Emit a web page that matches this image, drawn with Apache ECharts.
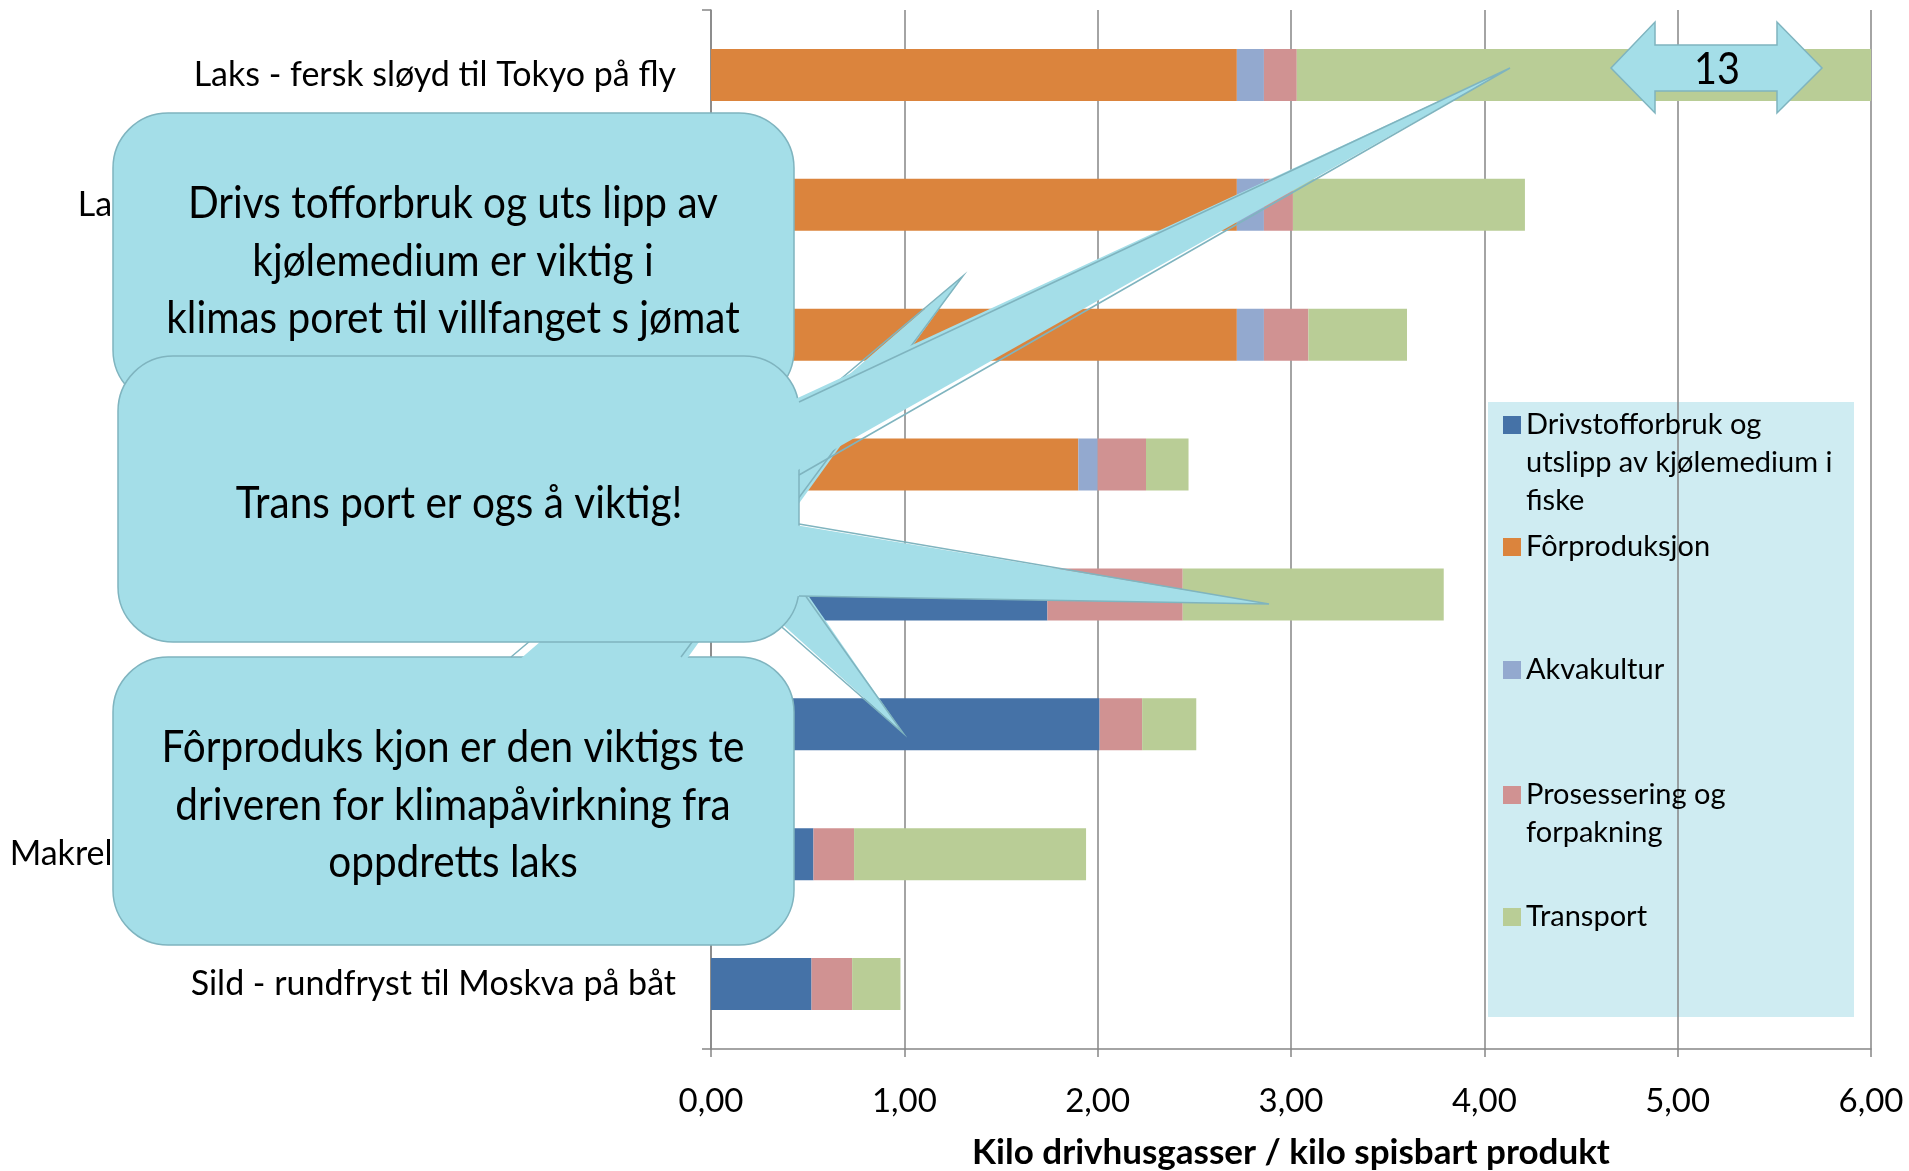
<!DOCTYPE html>
<html><head><meta charset="utf-8">
<script src="https://cdn.jsdelivr.net/npm/echarts@6/dist/echarts.min.js"></script>
<style>html,body{margin:0;padding:0;background:#fff}#c{width:1909px;height:1171px}</style>
</head><body><div id="c"></div><script>
const categories = [
  'Laks - fersk sløyd til Tokyo på fly',
  'Laks - fersk sløyd til Brussel med lastebil',
  'Laks - fersk filet til Paris med lastebil',
  'Laks - fryst filet til Tokyo på båt',
  'Torsk - fersk filet til Paris på fly',
  'Torsk - fryst filet til Paris med lastebil',
  'Makrel - rundfryst til Tokyo på båt og lastebil',
  'Sild - rundfryst til Moskva på båt'
];
const seriesNames = [
  'Drivstofforbruk og utslipp av kjølemedium i fiske',
  'Fôrproduksjon',
  'Akvakultur',
  'Prosessering og forpakning',
  'Transport'
];
const drivstoff    = [0, 0, 0, 0, 1.74, 2.01, 0.53, 0.52];
const forproduksjon = [2.72, 2.72, 2.72, 1.90, 0, 0, 0, 0];
const akvakultur   = [0.14, 0.14, 0.14, 0.10, 0, 0, 0, 0];
const prosessering = [0.17, 0.15, 0.23, 0.25, 0.70, 0.22, 0.21, 0.21];
const transport    = [9.97, 1.20, 0.51, 0.22, 1.35, 0.28, 1.20, 0.25];
const xTicks = [0, 1, 2, 3, 4, 5, 6];

const values = [drivstoff, forproduksjon, akvakultur, prosessering, transport];
const colors = ['#4572a7', '#db843d', '#93a9cf', '#d09292', '#b9cd96'];
const legendText = {
  'Drivstofforbruk og utslipp av kjølemedium i fiske': 'Drivstofforbruk og\nutslipp av kjølemedium i\nfiske',
  'Prosessering og forpakning': 'Prosessering og\nforpakning'
};
const legendCenters = [425, 547, 670, 795, 917];
const tokyoTotal = Math.round(values.reduce((s, arr) => s + arr[0], 0));

const FONT = 'Lato, "Open Sans", sans-serif';
const BF = '#a4dee8', BS = '#7fb4bf';
const LH = 38;

const chart = echarts.init(document.getElementById('c'));

function bubbleRect(x, y, w, h) {
  return { type: 'rect', z: 100, shape: { x, y, width: w, height: h, r: 55 },
    style: { fill: BF, stroke: BS, lineWidth: 1.5 } };
}
function wedge(b1, tip, b2, inset) {
  return [
    { type: 'polygon', z: 100, shape: { points: [inset[0], tip, inset[1]] }, style: { fill: BF } },
    { type: 'polyline', z: 100, shape: { points: [b1, tip, b2] }, style: { fill: null, stroke: BS, lineWidth: 1.5 } }
  ];
}
function btext(x, y, text) {
  return { type: 'text', z: 101, x, y, scaleX: 0.9, style: { text, fill: '#000', font: '45px ' + FONT,
    align: 'center', verticalAlign: 'middle', lineHeight: 57.5 } };
}

const graphics = [
  { type: 'rect', z: -10, shape: { x: 1488, y: 402, width: 366, height: 615 }, style: { fill: '#cfecf2' } },
  // bubble 1
  bubbleRect(113, 113, 681, 292),
  ...wedge([528, 405], [903, 733], [670, 405], [[528, 395], [670, 395]]),
  btext(453, 261, 'Drivs tofforbruk og uts lipp av\nkjølemedium er viktig i\nklimas poret til villfanget s jømat'),
  // bubble 3
  bubbleRect(113, 657, 681, 288),
  ...wedge([511, 657], [963, 276], [681, 657], [[511, 667], [681, 667]]),
  btext(453, 805, 'Fôrproduks kjon er den viktigs te\ndriveren for klimapåvirkning fra\noppdretts laks'),
  // bubble 2
  bubbleRect(118, 356, 681, 286),
  ...wedge([799, 402], [1510, 68], [799, 475], [[789, 402], [789, 475]]),
  ...wedge([799, 524], [1269, 604], [799, 596], [[789, 524], [789, 596]]),
  btext(459, 503, 'Trans port er ogs å viktig!'),
  // double arrow
  { type: 'polygon', z: 100, shape: { points: [[1611, 68], [1655, 22], [1655, 45], [1777, 45], [1777, 22], [1822, 68], [1777, 113], [1777, 91], [1655, 91], [1655, 113]] },
    style: { fill: BF, stroke: BS, lineWidth: 1.5 } },
  { type: 'text', z: 101, x: 1717, y: 70, scaleX: 0.9, style: { text: String(tokyoTotal), fill: '#000', font: '44px ' + FONT, align: 'center', verticalAlign: 'middle' } }
];

const legends = seriesNames.map((name, i) => {
  const lines = (legendText[name] || name).split('\n').length;
  const h = lines * LH;
  const icon = 'path://M0,0L0.01,0L0,0.01Z M0,10L18,10L18,28L0,28Z M0,' + h + 'L0.01,' + h + 'L0,' + (h - 0.01) + 'Z';
  return {
    data: [{ name, icon }], orient: 'vertical', left: 1503, top: legendCenters[i] - 19, padding: 0,
    itemWidth: 18, itemHeight: h, selectedMode: false,
    formatter: n => legendText[n] || n,
    textStyle: { fontFamily: FONT, fontSize: 29, lineHeight: LH, color: '#000' }
  };
});

chart.setOption({
  animation: false,
  color: colors,
  grid: { left: 711, right: 38, top: 10, bottom: 122, containLabel: false, outerBoundsMode: 'none' },
  legend: legends,
  xAxis: {
    type: 'value', min: xTicks[0], max: xTicks[xTicks.length - 1], interval: 1,
    axisLine: { show: true, lineStyle: { color: '#868686', width: 1.5 } },
    axisTick: { show: true, length: 8, lineStyle: { color: '#868686', width: 1.5 } },
    splitLine: { show: true, lineStyle: { color: '#868686', width: 1.5 } },
    axisLabel: { fontFamily: FONT, fontSize: 33, color: '#000', margin: 36,
      formatter: v => v.toFixed(2).replace('.', ',') },
    name: 'Kilo drivhusgasser / kilo spisbart produkt', nameLocation: 'middle', nameGap: 86,
    nameTextStyle: { fontFamily: FONT, fontSize: 35, fontWeight: 'bold', color: '#000' }
  },
  yAxis: {
    type: 'category', data: categories, inverse: true,
    axisLine: { show: true, lineStyle: { color: '#868686', width: 1.5 } },
    axisTick: { show: true, length: 9, lineStyle: { color: '#868686', width: 1.5 } },
    axisLabel: { fontFamily: FONT, fontSize: 34, color: '#000', margin: 35 },
    splitLine: { show: false }
  },
  series: seriesNames.map((name, i) => ({
    name, type: 'bar', stack: 'total', barWidth: '40%', data: values[i],
    itemStyle: { color: colors[i] }
  })),
  graphic: { elements: graphics }
});
</script></body></html>
